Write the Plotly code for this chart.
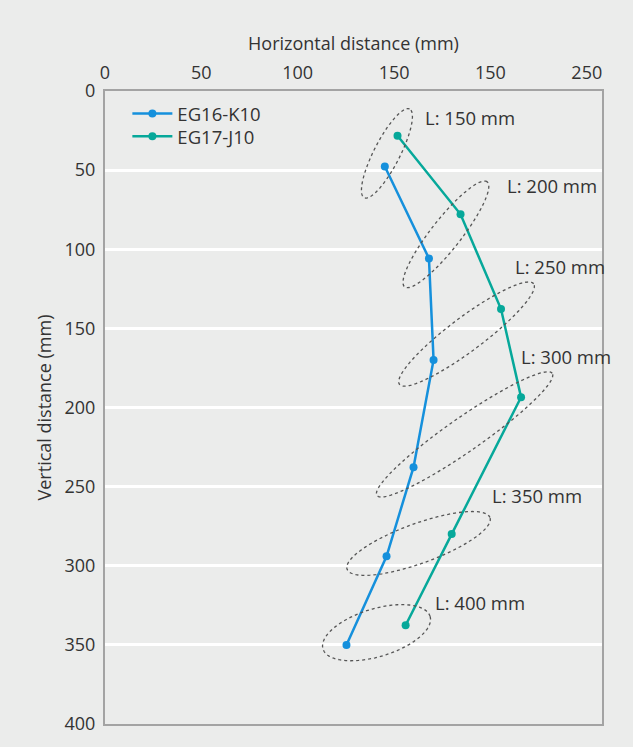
import numpy as np
import plotly.graph_objects as go

# ---- data ----
series_names = ["EG16-K10", "EG17-J10"]
eg16_x = [145.2, 168.1, 170.5, 160.1, 146.1, 125.3]
eg16_y = [47.7, 105.8, 170.0, 237.7, 294.0, 350.1]
eg17_x = [151.8, 184.5, 205.5, 215.9, 179.9, 156.0]
eg17_y = [28.3, 77.9, 137.8, 193.5, 280.0, 337.6]

x_tick_vals = [0, 50, 100, 150, 200, 250]
x_tick_text = ["0", "50", "100", "150", "150", "250"]
y_tick_vals = [0, 50, 100, 150, 200, 250, 300, 350, 400]

length_labels = ["L: 150 mm", "L: 200 mm", "L: 250 mm", "L: 300 mm", "L: 350 mm", "L: 400 mm"]
label_x = [165.1, 207.5, 211.5, 215.0, 199.7, 170.3]
label_y = [16.9, 59.5, 110.8, 167.7, 255.7, 323.3]

# ellipse annotations: centre (data), semi-axes (px), angle (deg)
ell_cx = [146.3, 176.9, 187.6, 186.6, 162.7, 140.9]
ell_cy = [39.4, 90.6, 153.6, 217.0, 285.9, 342.3]
ell_a = [50, 67, 84, 107, 76, 56]
ell_b = [13, 15, 17, 17, 20, 24]
ell_ang = [63, 52, 37, 35, 20, 17]

# ---- layout geometry ----
W, H = 633, 747
ML, MR, MT, MB = 105, 31, 91, 20
X_MAX = 257.9
Y_MAX = 400
px_x = (W - ML - MR) / X_MAX
px_y = (H - MT - MB) / Y_MAX

BLUE = "#1590DC"
TEAL = "#06A89A"
BG = "#EBECEB"
FONT = "Open Sans"
TXT = "#333333"

fig = go.Figure()
fig.add_trace(go.Scatter(x=eg16_x, y=eg16_y, mode="lines+markers", name=series_names[0],
                         line=dict(color=BLUE, width=2.5), marker=dict(size=8, color=BLUE),
                         legend="legend"))
fig.add_trace(go.Scatter(x=eg17_x, y=eg17_y, mode="lines+markers", name=series_names[1],
                         line=dict(color=TEAL, width=2.5), marker=dict(size=8, color=TEAL),
                         legend="legend2"))

t = np.linspace(0, 2 * np.pi, 121)
for cx, cy, a, b, ang in zip(ell_cx, ell_cy, ell_a, ell_b, ell_ang):
    th = np.deg2rad(ang)
    ex = a * np.cos(t) * np.cos(th) - b * np.sin(t) * np.sin(th)
    ey = a * np.cos(t) * np.sin(th) + b * np.sin(t) * np.cos(th)
    xs = cx + ex / px_x
    ys = cy - ey / px_y
    path = "M " + " L ".join(f"{x:.3f},{y:.3f}" for x, y in zip(xs, ys)) + " Z"
    fig.add_shape(type="path", path=path, xref="x", yref="y",
                  line=dict(color="#555555", width=1.3, dash="3px,3px"))

for txt, lx, ly in zip(length_labels, label_x, label_y):
    fig.add_annotation(x=lx, y=ly, text=txt, showarrow=False, xanchor="left", yanchor="middle",
                       font=dict(family=FONT, size=18.5, color=TXT))

leg_common = dict(xanchor="left", yanchor="middle", bgcolor="rgba(0,0,0,0)",
                  font=dict(family=FONT, size=18.5, color=TXT), itemwidth=40)
plot_h = H - MT - MB
fig.update_layout(
    width=W, height=H,
    margin=dict(l=ML, r=MR, t=MT, b=MB),
    paper_bgcolor=BG, plot_bgcolor=BG,
    font=dict(family=FONT, size=18, color=TXT),
    showlegend=True,
    legend=dict(x=0.045, y=1 - (114 - MT) / plot_h, **leg_common),
    legend2=dict(x=0.045, y=1 - (137 - MT) / plot_h, **leg_common),
    xaxis=dict(range=[0, X_MAX], side="top", tickvals=x_tick_vals, ticktext=x_tick_text,
               showgrid=False, zeroline=False, showline=True, mirror=True, linecolor="#A3A3A3",
               linewidth=2, ticks="", ticklabelstandoff=3, tickfont=dict(size=18),
               title=dict(text="Horizontal distance (mm)", font=dict(size=18), standoff=4)),
    yaxis=dict(range=[Y_MAX, 0], tickvals=y_tick_vals, showgrid=True, gridcolor="white",
               gridwidth=3, zeroline=False, showline=True, mirror=True, linecolor="#A3A3A3",
               linewidth=2, ticks="", ticklabelstandoff=4, tickfont=dict(size=18),
               title=dict(text="Vertical distance (mm)", font=dict(size=18), standoff=8)),
)

fig.write_html("out.html", post_script="document.body.style.margin='0';",
               config={"displayModeBar": False})
